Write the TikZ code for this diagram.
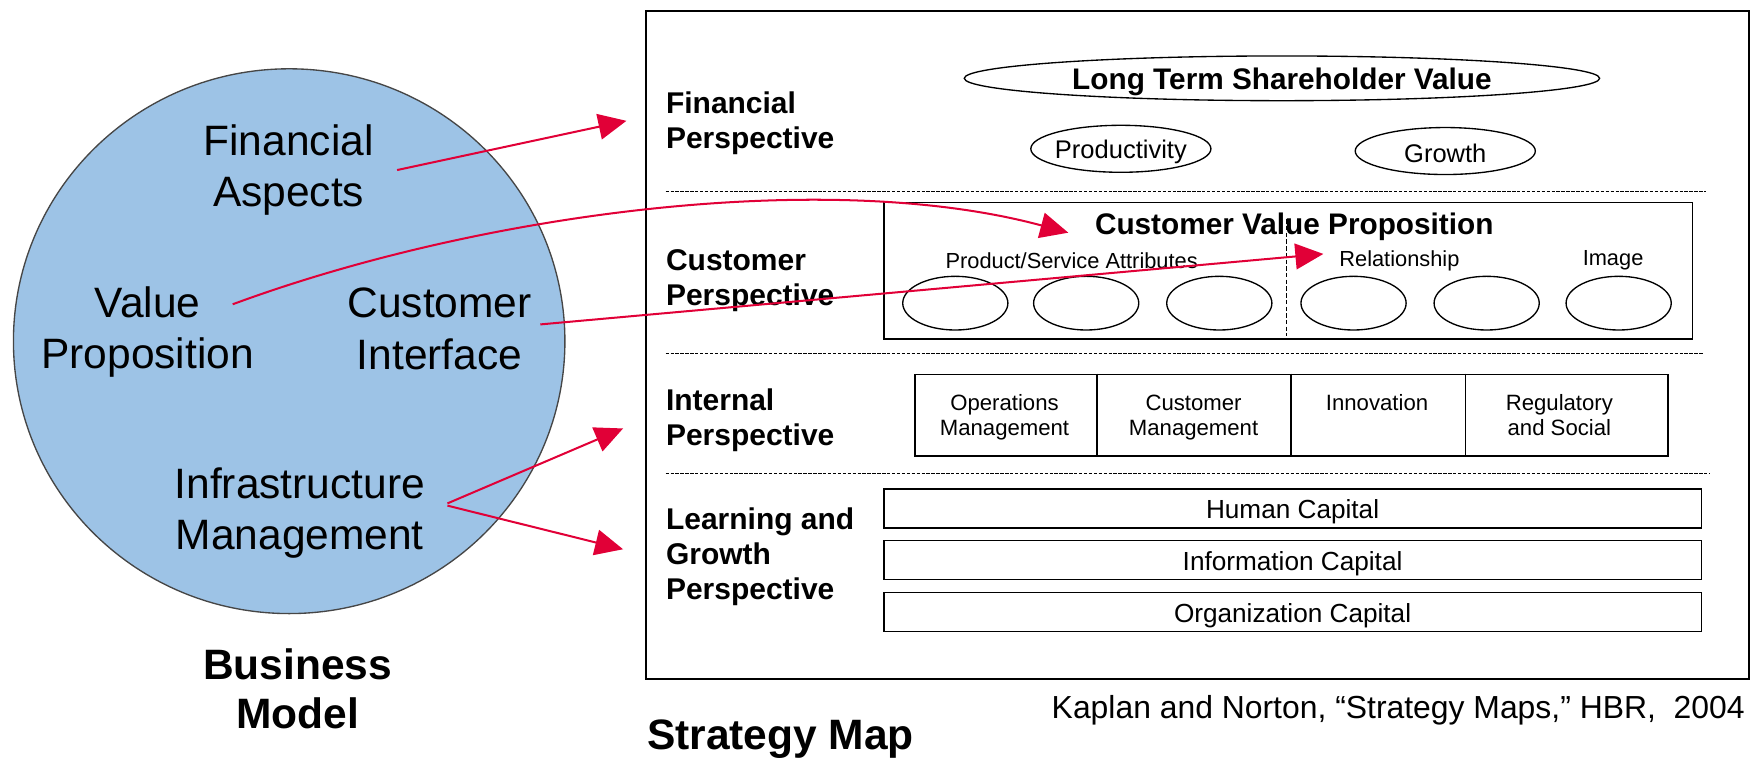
\documentclass[tikz,border=0pt]{standalone}
\usepackage{fontspec}
\setmainfont{Liberation Sans}
\usetikzlibrary{arrows.meta,shapes.geometric}
\definecolor{arr}{RGB}{225,0,55}
\definecolor{bmfill}{RGB}{157,195,230}
\definecolor{bmline}{RGB}{70,70,70}
\begin{document}
\begin{tikzpicture}[x=0.5pt,y=-0.5pt,
  bigtxt/.style={align=center,inner sep=0pt,font=\fontsize{19}{23}\selectfont},
  bigbold/.style={align=center,inner sep=0pt,font=\fontsize{19}{22}\selectfont\bfseries},
  rowlab/.style={anchor=west,align=left,inner sep=0pt,font=\fontsize{13.4}{15.6}\selectfont\bfseries},
  oval/.style={ellipse,draw,line width=0.6pt,inner sep=0pt},
  smalltxt/.style={inner sep=0pt,font=\fontsize{9.75}{11}\selectfont},
  celltxt/.style={anchor=north,align=center,inner sep=0pt,font=\fontsize{9.9}{11.2}\selectfont},
  capbox/.style={draw,line width=0.7pt,minimum width=365.5pt,minimum height=17.5pt,inner sep=0pt},
  captxt/.style={inner sep=0pt,font=\fontsize{11.7}{13}\selectfont},
  sep/.style={line width=0.6pt,dash pattern=on 1.5pt off 0.7pt},
  arrowline/.style={draw=arr,line width=0.9pt,-{Triangle[length=12.5pt,width=11.5pt]}}]
\useasboundingbox (0,0) rectangle (1568,677);

% Business model circle
\node (bm) [ellipse,draw=bmline,fill=bmfill,line width=0.6pt,minimum width=246.5pt,minimum height=243.5pt,inner sep=0pt] at (258.5,305) {};
\node (fa) [bigtxt] at (258,152) {Financial\\Aspects};
\node (vp) [bigtxt] at (132,297) {Value\\Proposition};
\node (ci) [bigtxt] at (393,294) {Customer\\Interface};
\node (im) [bigtxt] at (268,458.5) {Infrastructure\\Management};
\node (bmt) [bigbold] at (266,616) {Business\\Model};

% Strategy map frame
\node (frame) [draw,line width=0.8pt,anchor=north west,minimum width=493pt,minimum height=298.5pt,inner sep=0pt] at (577,9) {};
\node (smt) [anchor=west,inner sep=0pt,font=\fontsize{19}{22}\selectfont\bfseries] at (578,661) {Strategy Map};
\node (kn) [anchor=east,inner sep=0pt,font=\fontsize{14.25}{16}\selectfont] at (1560,635) {Kaplan and Norton, “Strategy Maps,” HBR,\ \ 2004};

% row labels
\node (rf) [rowlab] at (595,110) {Financial\\Perspective};
\node (rc) [rowlab] at (595,250.5) {Customer\\Perspective};
\node (ri) [rowlab] at (595,375.5) {Internal\\Perspective};
\node (rl) [rowlab] at (595,498) {Learning and\\Growth\\Perspective};

% separators
\coordinate (s1a) at (595,171); \coordinate (s1b) at (1525,171);
\coordinate (s2a) at (595,316); \coordinate (s2b) at (1522,316);
\coordinate (s3a) at (595,423); \coordinate (s3b) at (1528,423);
\draw[sep] (s1a) -- (s1b);
\draw[sep] (s2a) -- (s2b);
\draw[sep] (s3a) -- (s3b);

% financial
\node (ltsv) [oval,minimum width=284pt,minimum height=20pt] at (1146,70) {};
\node (ltsvt) [inner sep=0pt,font=\fontsize{13.3}{15}\selectfont\bfseries] at (1146,73) {Long Term Shareholder Value};
\node (prod) [oval,minimum width=80.5pt,minimum height=21pt] at (1002,133) {};
\node (prodt) [inner sep=0pt,font=\fontsize{11.4}{13}\selectfont] at (1002,136) {Productivity};
\node (grow) [oval,minimum width=80.5pt,minimum height=21pt] at (1292,135) {};
\node (growt) [inner sep=0pt,font=\fontsize{11.4}{13}\selectfont] at (1292,137) {Growth};

% customer
\node (cbox) [draw,line width=0.8pt,minimum width=361.5pt,minimum height=61pt,inner sep=0pt] at (1151.5,242) {};
\node (cvp) [inner sep=0pt,font=\fontsize{13.3}{15}\selectfont\bfseries] at (1157,203) {Customer Value Proposition};
\node (psa) [smalltxt] at (958,233) {Product/Service Attributes};
\node (rel) [smalltxt] at (1251,233) {Relationship};
\node (img) [smalltxt] at (1442,233) {Image};
\coordinate (dv1) at (1150,196); \coordinate (dv2) at (1150,300);
\draw[line width=0.6pt,dash pattern=on 2pt off 1pt] (dv1) -- (dv2);
\foreach \i/\x in {1/854,2/971,3/1090,4/1210,5/1329,6/1447}
  \node (c\i) [oval,minimum width=47pt,minimum height=24pt] at (\x,271) {};

% internal
\node (ibox) [draw,line width=0.8pt,anchor=north west,minimum width=336.5pt,minimum height=36.5pt,inner sep=0pt] at (817,334) {};
\coordinate (d1a) at (981,334); \coordinate (d1b) at (981,407);
\coordinate (d2a) at (1154,334); \coordinate (d2b) at (1154,407);
\coordinate (d3a) at (1310,334); \coordinate (d3b) at (1310,407);
\draw[line width=0.8pt] (d1a) -- (d1b) (d2a) -- (d2b) (d3a) -- (d3b);
\node (om) [celltxt] at (898,352.5) {Operations\\Management};
\node (cm) [celltxt] at (1067,352.5) {Customer\\Management};
\node (inn) [celltxt] at (1231,352.5) {Innovation};
\node (rs) [celltxt] at (1394,352.5) {Regulatory\\and Social};

% learning and growth
\node (hc) [capbox] at (1155.5,454.5) {};
\node (ic) [capbox] at (1155.5,500.5) {};
\node (oc) [capbox] at (1155.5,547) {};
\node (hct) [captxt] at (1155.5,457.5) {Human Capital};
\node (ict) [captxt] at (1155.5,503.5) {Information Capital};
\node (oct) [captxt] at (1155.5,550) {Organization Capital};

% arrows
\coordinate (a1s) at (355,152); \coordinate (a1t) at (560,108);
\coordinate (a2s) at (208,272); \coordinate (a2t) at (955,208);
\coordinate (a3s) at (483,290); \coordinate (a3t) at (1183,227);
\coordinate (a4s) at (400,450); \coordinate (a4t) at (557,383);
\coordinate (a5s) at (400,452); \coordinate (a5t) at (557,491);
\draw[arrowline] (a1s) -- (a1t);
\draw[arrowline] (a2s) .. controls (430,190) and (740,150) .. (a2t);
\draw[arrowline] (a3s) -- (a3t);
\draw[arrowline] (a4s) -- (a4t);
\draw[arrowline] (a5s) -- (a5t);
\end{tikzpicture}
\end{document}
